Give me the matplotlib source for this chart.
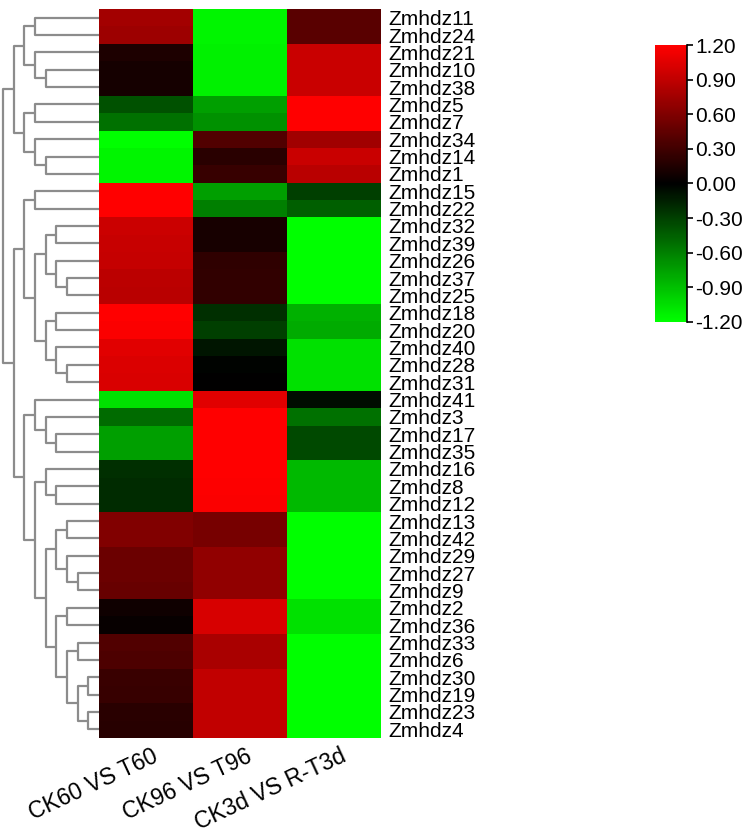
import numpy as np
import matplotlib
matplotlib.use("Agg")
import matplotlib.pyplot as plt
from matplotlib.colors import LinearSegmentedColormap
from matplotlib.transforms import ScaledTranslation

plt.rcParams['font.family'] = ['Liberation Sans', 'DejaVu Sans']

# gene names, top to bottom
genes = ["Zmhdz11", "Zmhdz24", "Zmhdz21", "Zmhdz10", "Zmhdz38", "Zmhdz5", "Zmhdz7",
         "Zmhdz34", "Zmhdz14", "Zmhdz1", "Zmhdz15", "Zmhdz22", "Zmhdz32", "Zmhdz39",
         "Zmhdz26", "Zmhdz37", "Zmhdz25", "Zmhdz18", "Zmhdz20", "Zmhdz40", "Zmhdz28",
         "Zmhdz31", "Zmhdz41", "Zmhdz3", "Zmhdz17", "Zmhdz35", "Zmhdz16", "Zmhdz8",
         "Zmhdz12", "Zmhdz13", "Zmhdz42", "Zmhdz29", "Zmhdz27", "Zmhdz9", "Zmhdz2",
         "Zmhdz36", "Zmhdz33", "Zmhdz6", "Zmhdz30", "Zmhdz19", "Zmhdz23", "Zmhdz4"]

comparisons = ["CK60 VS T60", "CK96 VS T96", "CK3d VS R-T3d"]

ck60 = [0.76, 0.74, 0.14, 0.10, 0.10, -0.38, -0.53, -1.20, -1.15, -1.15,
        1.20, 1.20, 0.95, 0.93, 0.92, 0.88, 0.87, 1.20, 1.18, 1.05,
        1.03, 1.02, -1.05, -0.50, -0.75, -0.75, -0.22, -0.20, -0.20, 0.60,
        0.60, 0.50, 0.50, 0.48, 0.07, 0.03, 0.38, 0.36, 0.27, 0.26,
        0.19, 0.18]
ck96 = [-1.15, -1.15, -1.13, -1.13, -1.13, -0.75, -0.68, 0.38, 0.19, 0.26,
        -0.75, -0.60, 0.11, 0.11, 0.22, 0.23, 0.23, -0.22, -0.30, -0.10,
        -0.01, 0.00, 1.05, 1.20, 1.20, 1.20, 1.20, 1.19, 1.18, 0.56,
        0.56, 0.68, 0.68, 0.68, 1.01, 1.01, 0.79, 0.79, 0.90, 0.90,
        0.90, 0.90]
ck3d = [0.42, 0.42, 0.94, 0.94, 0.94, 1.20, 1.20, 0.75, 0.94, 0.87,
        -0.30, -0.45, -1.20, -1.20, -1.20, -1.20, -1.20, -0.83, -0.80, -1.05,
        -1.05, -1.05, -0.06, -0.53, -0.34, -0.34, -0.87, -0.87, -0.87, -1.20,
        -1.20, -1.20, -1.20, -1.20, -1.05, -1.05, -1.20, -1.20, -1.20, -1.20,
        -1.20, -1.20]

cbar_ticks = [1.2, 0.9, 0.6, 0.3, 0.0, -0.3, -0.6, -0.9, -1.2]

# row dendrogram: [left, right, merge level], leaves are row numbers
clus_a = [[[0, 1, 6], [2, [3, 4, 5], 6], 7], [[5, 6, 6], [7, [8, 9, 5], 6], 7], 8]
clus_b1 = [[10, 11, 6],
           [[[12, 13, 4], [14, [15, 16, 3], 4], 5],
            [[17, 18, 4], [19, [20, 21, 3], 4], 5], 6], 7]
clus_x = [[29, 30, 3], [31, [32, 33, 2], 3], 4]
clus_y = [[34, 35, 3], [[36, 37, 2], [[38, 39, 1], [40, 41, 1], 2], 3], 4]
clus_b2 = [[22, [23, [24, 25, 4], 5], 6],
           [[26, [27, 28, 4], 5], [clus_x, clus_y, 5], 6], 7]
tree = [clus_a, [clus_b1, clus_b2, 8], 9]

data = np.array([ck60, ck96, ck3d]).T
n = len(genes)

cmap = LinearSegmentedColormap.from_list("gkr", ["#00FF00", "#000000", "#FF0000"])

fig = plt.figure(figsize=(7.49, 8.35), dpi=100)

# heatmap
ax = fig.add_axes([0.1322, 0.1162, 0.3765, 0.873])
im = ax.pcolormesh(np.arange(4), np.arange(n + 1), data, cmap=cmap, vmin=-1.2, vmax=1.2)
ax.set_xlim(0, 3)
ax.set_ylim(n, 0)
for s in ax.spines.values():
    s.set_visible(False)
ax.yaxis.tick_right()
ax.set_yticks(np.arange(n) + 0.5)
ax.set_yticklabels(genes, fontsize=15)
ax.tick_params(axis='y', length=0, pad=5)
ax.set_xticks(np.arange(3) + 0.5)
ax.set_xticklabels(comparisons, fontsize=16.5, rotation=25, ha='right', va='top',
                   rotation_mode='anchor')
ax.tick_params(axis='x', length=0, pad=5)
off = ScaledTranslation(0.06, 0, fig.dpi_scale_trans)
for lab in ax.get_xticklabels():
    lab.set_transform(lab.get_transform() + off)

# dendrogram on the left
dax = fig.add_axes([0.004, 0.1162, 0.128, 0.873])
dax.set_xlim(9, 0)
dax.set_ylim(n, 0)
dax.axis('off')


def draw(node):
    if isinstance(node, int):
        return node + 0.5, 0
    left, right, h = node
    y1, h1 = draw(left)
    y2, h2 = draw(right)
    dax.plot([h1, h, h, h2], [y1, y1, y2, y2], color='#8c8c8c', lw=1.6,
             clip_on=False, solid_capstyle='butt')
    return (y1 + y2) / 2, h


draw(tree)

# colour bar
cax = fig.add_axes([0.8745, 0.6144, 0.0427, 0.3317])
cb = fig.colorbar(im, cax=cax, ticks=cbar_ticks)
cb.outline.set_visible(False)
cax.plot([1, 1], [0, 1], transform=cax.transAxes, color='black', lw=1.2, clip_on=False)
cax.set_yticklabels(["%.2f" % t for t in cbar_ticks])
cax.tick_params(axis='y', length=4, width=1.2, labelsize=15, pad=2)

plt.savefig('out.png', dpi=100)
